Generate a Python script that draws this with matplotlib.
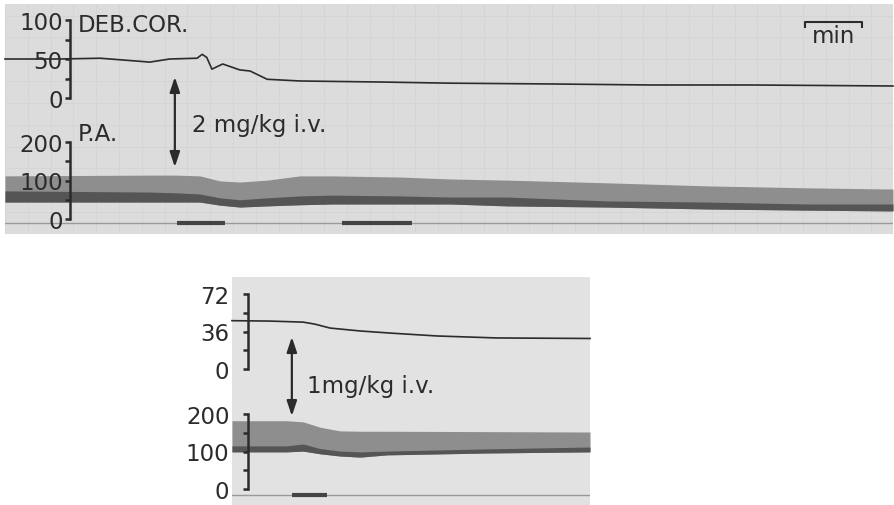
import matplotlib
matplotlib.use("Agg")
import matplotlib.pyplot as plt
import numpy as np

plt.rcParams['font.family'] = ['DejaVu Sans']

# ---------------- data (time in minutes from start of each strip) ----------------
# Top strip: coronary flow (DEB.COR.)
top_cor_t = [0, 0.96, 1.67, 2.37, 2.54, 2.89, 3.37, 3.46, 3.54, 3.63, 3.82, 4.12,
             4.30, 4.60, 5.18, 6.58, 7.81, 9.56, 11.32, 13.07, 15.58]
top_cor_v = [50, 50, 51, 47, 46, 50, 51, 56, 52, 37, 43.6, 36,
             34.6, 24, 21.8, 20.5, 19, 18, 16.7, 16.7, 15.4]
# Top strip: arterial pressure (P.A.) envelope
top_pa_t = [0, 2.54, 3.0, 3.42, 3.77, 4.12, 4.6, 5.18, 5.75, 6.93, 7.81, 8.81,
            10.56, 12.32, 14.07, 15.47, 15.58]
top_pa_sys = [112, 114, 114, 112, 99, 96, 101, 112, 112, 109, 104, 101,
              94, 86, 81, 78, 78]
top_pa_mid = [73, 70, 68, 65, 55, 50, 55, 60, 62, 60, 57, 57,
              47, 44, 39, 39, 39]
top_pa_dia = [44, 44, 44, 44, 36, 31, 34, 37, 39, 39, 39, 34,
              31, 26, 23, 21, 21]
top_inj = [(3.02, 3.86), (5.91, 7.14)]

# Bottom strip
bot_cor_t = [0, 0.67, 1.25, 1.46, 1.72, 2.25, 2.77, 3.60, 4.65, 6.28]
bot_cor_v = [46.4, 46, 45, 43, 39.3, 36.5, 34.5, 31.7, 29.8, 29.3]
bot_pa_t = [0, 0.96, 1.25, 1.54, 1.89, 2.25, 2.72, 4.47, 6.28]
bot_pa_sys = [182, 182, 179, 165, 155, 154, 154, 153, 152]
bot_pa_mid = [115, 115, 120, 108, 101, 99, 101, 107, 112]
bot_pa_dia = [99, 99, 101, 94, 88, 85, 91, 96, 99]
bot_inj = [(1.05, 1.67)]

top_cor_ticks = [0, 25, 50, 75, 100]
top_cor_labels = ['0', '', '50', '', '100']
pa_ticks = [0, 50, 100, 150, 200]
pa_labels = ['0', '', '100', '', '200']
bot_cor_ticks = [0, 18, 36, 54, 72]
bot_cor_labels = ['0', '', '36', '', '72']

# ---------------- styling ----------------
W, H = 895, 506
PAPER_TOP = '#dcdcdc'
PAPER_BOT = '#e2e2e2'
INK = '#2b2b2b'
BAND_LIGHT = '#8e8e8e'
BAND_DARK = '#555555'
FS = 16.5

fig = plt.figure(figsize=(W / 100, H / 100), dpi=100)
fig.patch.set_facecolor('white')


def fx(x0, y0, x1, y1):
    """pixel box -> figure fraction rect"""
    return [x0 / W, 1 - y1 / H, (x1 - x0) / W, (y1 - y0) / H]


def bare(ax):
    for s in ax.spines.values():
        s.set_visible(False)
    ax.set_xticks([])
    ax.set_yticks([])


def bracket_axis(ax, xpos, ticks, labels, lim, pad):
    ax.set_facecolor('none')
    for k in ('top', 'right', 'bottom'):
        ax.spines[k].set_visible(False)
    ax.spines['left'].set_position(('data', xpos))
    ax.spines['left'].set_bounds(lim[0], lim[1])
    ax.spines['left'].set_linewidth(1.8)
    ax.spines['left'].set_color(INK)
    ax.set_ylim(*lim)
    ax.set_xticks([])
    ax.set_yticks(ticks)
    ax.set_yticklabels(labels)
    ax.tick_params(axis='y', direction='out', length=3.8, width=1.8,
                   pad=pad, labelsize=FS, colors=INK)


# ================= TOP STRIP =================
T_MAX = 15.58
bg = fig.add_axes(fx(5, 5, 893, 235))
bg.set_facecolor(PAPER_TOP)
bare(bg)
bg.set_xlim(0, T_MAX)
bg.set_ylim(0, 1)
# faint chart-paper grid
bg.set_xticks(np.arange(0, T_MAX, 0.4))
bg.set_yticks(np.arange(0, 1, 0.095))
bg.tick_params(length=0, labelbottom=False, labelleft=False)
bg.grid(True, color='#d3d3d3', lw=0.5)
bg.set_axisbelow(True)

# baseline and injection markers
bg.axhline(0.048, color='#9a9a9a', lw=1.0)
for a, b in top_inj:
    bg.plot([a, b], [0.048, 0.048], color='#444444', lw=3, solid_capstyle='butt')

# arrow and annotation
bg.annotate('', xy=(2.98, 0.683), xytext=(2.98, 0.291),
            arrowprops=dict(arrowstyle='<|-|>,head_length=0.9,head_width=0.3',
                            color=INK, lw=1.6, shrinkA=0, shrinkB=0))
bg.text(3.28, 0.478, '2 mg/kg i.v.', fontsize=FS, color=INK, ha='left', va='center')
bg.text(1.28, 0.913, 'DEB.COR.', fontsize=FS, color=INK, ha='left', va='center')
bg.text(1.28, 0.435, 'P.A.', fontsize=FS, color=INK, ha='left', va='center')
# 1-minute bar
bg.plot([14.04, 14.04, 15.04, 15.04], [0.9, 0.922, 0.922, 0.9], color=INK, lw=1.5)
bg.text(14.54, 0.865, 'min', fontsize=FS, color=INK, ha='center', va='center')

# coronary flow trace
ax1 = fig.add_axes(fx(5, 21, 893, 99))
ax1.set_xlim(0, T_MAX)
bracket_axis(ax1, 1.14, top_cor_ticks, top_cor_labels, (0, 100), 1.5)
ax1.plot(top_cor_t, top_cor_v, color=INK, lw=1.2, clip_on=False)

# arterial pressure band
ax2 = fig.add_axes(fx(5, 143, 893, 220))
ax2.set_xlim(0, T_MAX)
bracket_axis(ax2, 1.14, pa_ticks, pa_labels, (0, 200), 1.5)
ax2.fill_between(top_pa_t, top_pa_dia, top_pa_sys, color=BAND_LIGHT, lw=0, clip_on=False)
ax2.fill_between(top_pa_t, top_pa_dia, top_pa_mid, color=BAND_DARK, lw=0, clip_on=False)
ax2.spines['left'].set_zorder(5)

# ================= BOTTOM STRIP =================
B_MAX = 6.28
bg2 = fig.add_axes(fx(232, 278, 590, 506))
bg2.set_facecolor(PAPER_BOT)
bare(bg2)
bg2.set_xlim(0, B_MAX)
bg2.set_ylim(0, 1)
bg2.axhline(0.044, color='#9a9a9a', lw=1.0)
for a, b in bot_inj:
    bg2.plot([a, b], [0.044, 0.044], color='#444444', lw=3, solid_capstyle='butt')
bg2.annotate('', xy=(1.05, 0.737), xytext=(1.05, 0.39),
             arrowprops=dict(arrowstyle='<|-|>,head_length=0.9,head_width=0.3',
                             color=INK, lw=1.6, shrinkA=0, shrinkB=0))
bg2.text(1.32, 0.522, '1mg/kg i.v.', fontsize=FS, color=INK, ha='left', va='center')

ax3 = fig.add_axes(fx(232, 295, 590, 370))
ax3.set_xlim(0, B_MAX)
bracket_axis(ax3, 0.28, bot_cor_ticks, bot_cor_labels, (0, 72), 9.5)
ax3.plot(bot_cor_t, bot_cor_v, color=INK, lw=1.2, clip_on=False)

ax4 = fig.add_axes(fx(232, 415, 590, 490))
ax4.set_xlim(0, B_MAX)
bracket_axis(ax4, 0.28, pa_ticks, pa_labels, (0, 200), 9.5)
ax4.fill_between(bot_pa_t, bot_pa_dia, bot_pa_sys, color=BAND_LIGHT, lw=0, clip_on=False)
ax4.fill_between(bot_pa_t, bot_pa_dia, bot_pa_mid, color=BAND_DARK, lw=0, clip_on=False)
ax4.spines['left'].set_zorder(5)

fig.savefig('out.png', dpi=100, facecolor='white')
